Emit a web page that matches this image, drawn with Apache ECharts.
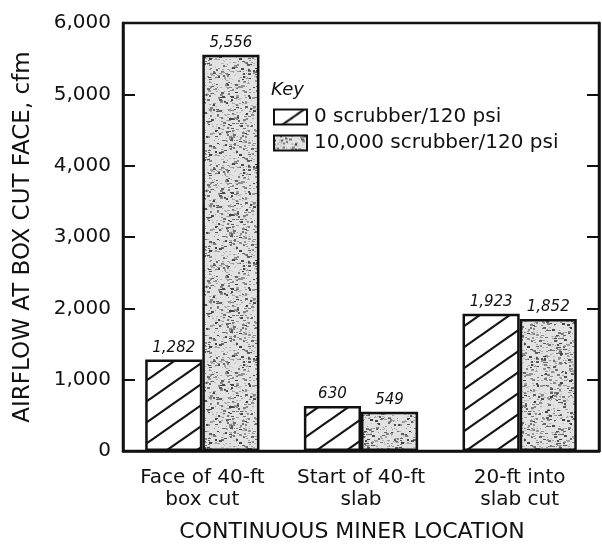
<!DOCTYPE html>
<html>
<head>
<meta charset="utf-8">
<script src="https://cdn.jsdelivr.net/npm/echarts@6/dist/echarts.min.js"></script>
<style>
html,body{margin:0;padding:0;background:#fff;}
#c{width:602px;height:548px;}
</style>
</head>
<body>
<div id="c"></div>
<script>
// ---- data ----
var categories = ['Face of 40-ft\nbox cut', 'Start of 40-ft\nslab', '20-ft into\nslab cut'];
var seriesNames = ['0 scrubber/120 psi', '10,000 scrubber/120 psi'];
var scrubber0 = [1282, 630, 1923];
var scrubber10000 = [5556, 549, 1852];
var yTicks = [0, 1000, 2000, 3000, 4000, 5000, 6000];
var yAxisTitle = 'AIRFLOW AT BOX CUT FACE, cfm';
var xAxisTitle = 'CONTINUOUS MINER LOCATION';
var keyTitle = 'Key';

// ---- textures ----
function hatchPattern() {
  var W = 30, H = 21;
  var c = document.createElement('canvas');
  c.width = W; c.height = H;
  var g = c.getContext('2d');
  g.fillStyle = '#ffffff';
  g.fillRect(0, 0, W, H);
  g.strokeStyle = '#151515';
  g.lineWidth = 2.2;
  [-H, 0, H].forEach(function (o) {
    g.beginPath();
    g.moveTo(-W, 2 * H + o);
    g.lineTo(2 * W, -H + o);
    g.stroke();
  });
  return c;
}
function stipplePattern() {
  var S = 96;
  var c = document.createElement('canvas');
  c.width = S; c.height = S;
  var g = c.getContext('2d');
  g.fillStyle = '#e2e2e2';
  g.fillRect(0, 0, S, S);
  function h(i) { var x = Math.sin(i * 12.9898 + 78.233) * 43758.5453; return x - Math.floor(x); }
  var i, x, y, v, shade;
  for (i = 0; i < 700; i++) {
    x = Math.floor(h(i * 5 + 1) * S);
    y = Math.floor(h(i * 5 + 2) * S);
    shade = Math.floor(140 + h(i * 5 + 3) * 60);
    g.fillStyle = 'rgb(' + shade + ',' + shade + ',' + shade + ')';
    g.fillRect(x, y, 1 + (i % 2), 1);
  }
  for (i = 0; i < 480; i++) {
    x = Math.floor(h(i * 7 + 11) * S);
    y = Math.floor(h(i * 7 + 12) * S);
    v = h(i * 7 + 13);
    shade = Math.floor(60 + v * 100);
    g.fillStyle = 'rgb(' + shade + ',' + shade + ',' + shade + ')';
    var w = 2 + Math.floor(h(i * 7 + 14) * 2);
    var hh = 1 + Math.floor(h(i * 7 + 15) * 2);
    g.fillRect(x, y, w, hh);
    if (x + w > S) g.fillRect(x - S, y, w, hh);
    if (y + hh > S) g.fillRect(x, y - S, w, hh);
  }
  return c;
}
var hatchFill = { image: hatchPattern(), repeat: 'repeat' };
var stippleFill = { image: stipplePattern(), repeat: 'repeat' };

function commas(v) { return String(v).replace(/\B(?=(\d{3})+(?!\d))/g, ','); }

var FONT = 'DejaVu Sans';
var INK = '#111111';

var chart = echarts.init(document.getElementById('c'), null, { renderer: 'canvas' });
var labelStyle = {
  show: true, position: 'top', distance: 4, fontFamily: FONT, fontStyle: 'italic',
  fontSize: 15, color: INK, formatter: function (p) { return commas(p.value); }
};
chart.setOption({
  animation: false,
  backgroundColor: '#ffffff',
  grid: { left: 123, right: 3, top: 23, bottom: 94, show: true, borderColor: INK, borderWidth: 2.5, backgroundColor: 'transparent' },
  legend: {
    orient: 'vertical', left: 268, top: 102, itemWidth: 33, itemHeight: 15, itemGap: 6,
    icon: 'rect',
    textStyle: { fontFamily: FONT, fontSize: 20, color: INK, padding: [0, 0, 0, 2] },
    data: seriesNames
  },
  graphic: [{
    type: 'text', left: 271, top: 81,
    style: { text: keyTitle, font: 'italic 18px "DejaVu Sans"', fill: INK }
  }],
  xAxis: {
    type: 'category', data: categories,
    axisLine: { lineStyle: { color: INK, width: 2.5 } },
    axisTick: { show: false },
    axisLabel: { interval: 0, hideOverlap: false, fontFamily: FONT, fontSize: 20, color: INK, lineHeight: 22, margin: 16 },
    name: xAxisTitle, nameLocation: 'middle', nameGap: 70,
    nameTextStyle: { fontFamily: FONT, fontSize: 22, color: INK, padding: [0, 18, 0, 0] }
  },
  yAxis: [{
    type: 'value', min: yTicks[0], max: yTicks[yTicks.length - 1], interval: yTicks[1] - yTicks[0],
    axisLine: { show: true, lineStyle: { color: INK, width: 2.5 } },
    axisTick: { show: true, inside: true, length: 12, lineStyle: { color: INK, width: 2 } },
    splitLine: { show: false },
    axisLabel: { fontFamily: FONT, fontSize: 20, color: INK, margin: 12, formatter: function (v) { return commas(v); } },
    name: yAxisTitle, nameLocation: 'middle', nameGap: 88,
    nameTextStyle: { fontFamily: FONT, fontSize: 23, color: INK }
  }, {
    type: 'value', position: 'right', min: yTicks[0], max: yTicks[yTicks.length - 1], interval: yTicks[1] - yTicks[0],
    axisLine: { show: true, lineStyle: { color: INK, width: 2.5 } },
    axisTick: { show: true, inside: true, length: 12, lineStyle: { color: INK, width: 2 } },
    axisLabel: { show: false }, splitLine: { show: false }
  }],
  series: [{
    name: seriesNames[0], type: 'bar', data: scrubber0, barGap: '0%', barCategoryGap: '28%',
    itemStyle: { color: hatchFill, borderColor: INK, borderWidth: 2.5 },
    label: labelStyle
  }, {
    name: seriesNames[1], type: 'bar', data: scrubber10000, barGap: '0%', barCategoryGap: '28%',
    itemStyle: { color: stippleFill, borderColor: INK, borderWidth: 2.5 },
    label: labelStyle
  }]
});
</script>
</body>
</html>
